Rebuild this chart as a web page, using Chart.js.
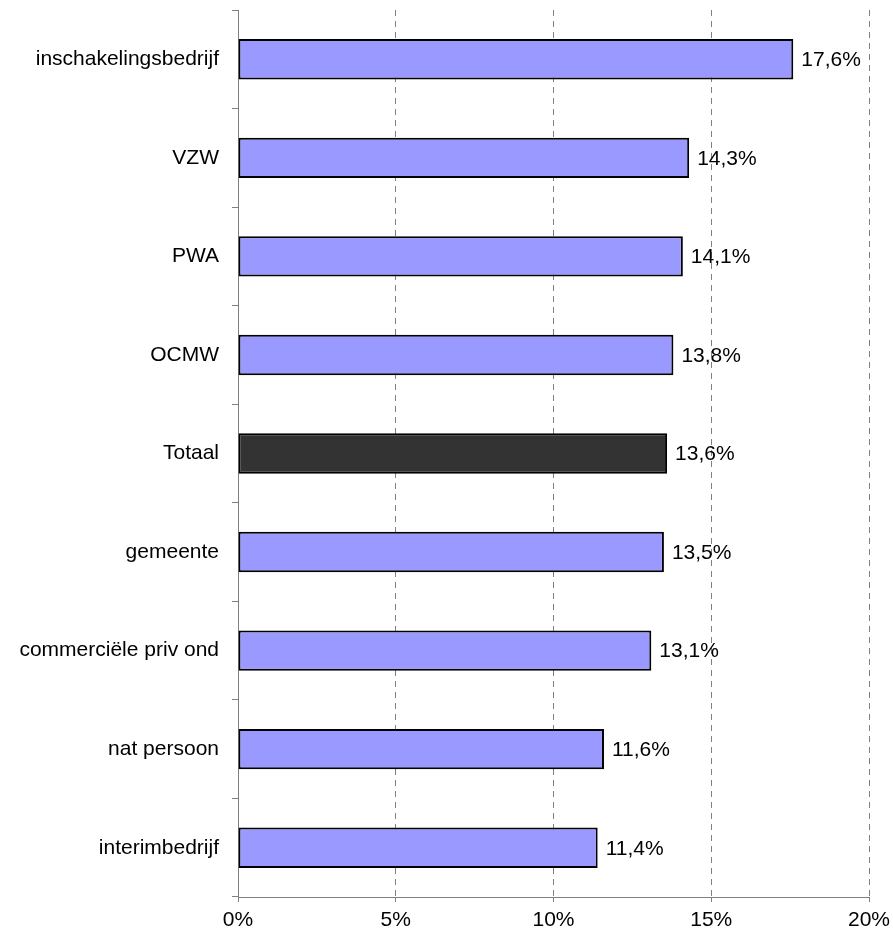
<!DOCTYPE html>
<html>
<head>
<meta charset="utf-8">
<script src="https://cdn.jsdelivr.net/npm/chart.js@4/dist/chart.umd.min.js"></script>
<style>
  html, body { margin: 0; padding: 0; background: #ffffff; }
  #wrap { width: 893px; height: 937px; }
</style>
</head>
<body>
<div id="wrap"><canvas id="chart" width="893" height="937"></canvas></div>
<script>
// Share per employer type (percent)
const categories = [
  'inschakelingsbedrijf', 'VZW', 'PWA', 'OCMW', 'Totaal',
  'gemeente', 'commerciële priv ond', 'nat persoon', 'interimbedrijf'
];
const values = [17.6, 14.3, 14.1, 13.8, 13.6, 13.5, 13.1, 11.6, 11.4];
const xTicks = [0, 5, 10, 15, 20];

const FONT = 'Liberation Sans, Arial, sans-serif';
const barColors = categories.map(c => c === 'Totaal' ? '#333333' : '#9999ff');

function pct(v) {
  return v.toFixed(1).replace('.', ',') + '%';
}

// Writes each value just to the right of its bar
const valueLabels = {
  id: 'valueLabels',
  afterDatasetsDraw(chart) {
    const ctx = chart.ctx;
    const meta = chart.getDatasetMeta(0);
    ctx.save();
    ctx.font = '21px ' + FONT;
    ctx.fillStyle = '#000000';
    ctx.textAlign = 'left';
    ctx.textBaseline = 'middle';
    meta.data.forEach((bar, i) => {
      ctx.fillText(pct(values[i]), bar.x + 8, bar.y + 1);
    });
    ctx.restore();
  }
};

new Chart(document.getElementById('chart'), {
  type: 'bar',
  data: {
    labels: categories,
    datasets: [{
      data: values,
      backgroundColor: barColors,
      borderColor: '#000000',
      borderWidth: 2,
      borderSkipped: false,
      barPercentage: 0.82,
      categoryPercentage: 0.5
    }]
  },
  options: {
    indexAxis: 'y',
    responsive: false,
    animation: false,
    devicePixelRatio: 1,
    layout: { padding: { top: 10, right: 24, left: 0, bottom: 0 } },
    plugins: {
      legend: { display: false },
      tooltip: { enabled: false }
    },
    scales: {
      x: {
        min: 0,
        max: 20,
        afterBuildTicks(scale) {
          scale.ticks = xTicks.map(v => ({ value: v }));
        },
        afterFit(scale) {
          scale.height = 40;
          scale.paddingLeft = 0;
          scale.paddingRight = 0;
        },
        ticks: {
          callback: v => v + '%',
          color: '#000000',
          font: { family: FONT, size: 21 },
          padding: 6,
          maxRotation: 0
        },
        grid: {
          color: '#808080',
          lineWidth: 1,
          tickLength: 5,
          tickColor: '#808080',
          tickBorderDash: [],
          borderDash: [6, 5]
        },
        border: { display: true, color: '#808080', width: 1, dash: [6, 5] }
      },
      y: {
        afterFit(scale) {
          scale.width = 238;
          scale.paddingTop = 0;
          scale.paddingBottom = 0;
        },
        ticks: {
          color: '#000000',
          font: { family: FONT, size: 21 },
          padding: 13
        },
        grid: {
          offset: true,
          drawOnChartArea: false,
          color: '#808080',
          tickLength: 6
        },
        border: { display: true, color: '#808080', width: 1 }
      }
    }
  },
  plugins: [valueLabels]
});
</script>
</body>
</html>
